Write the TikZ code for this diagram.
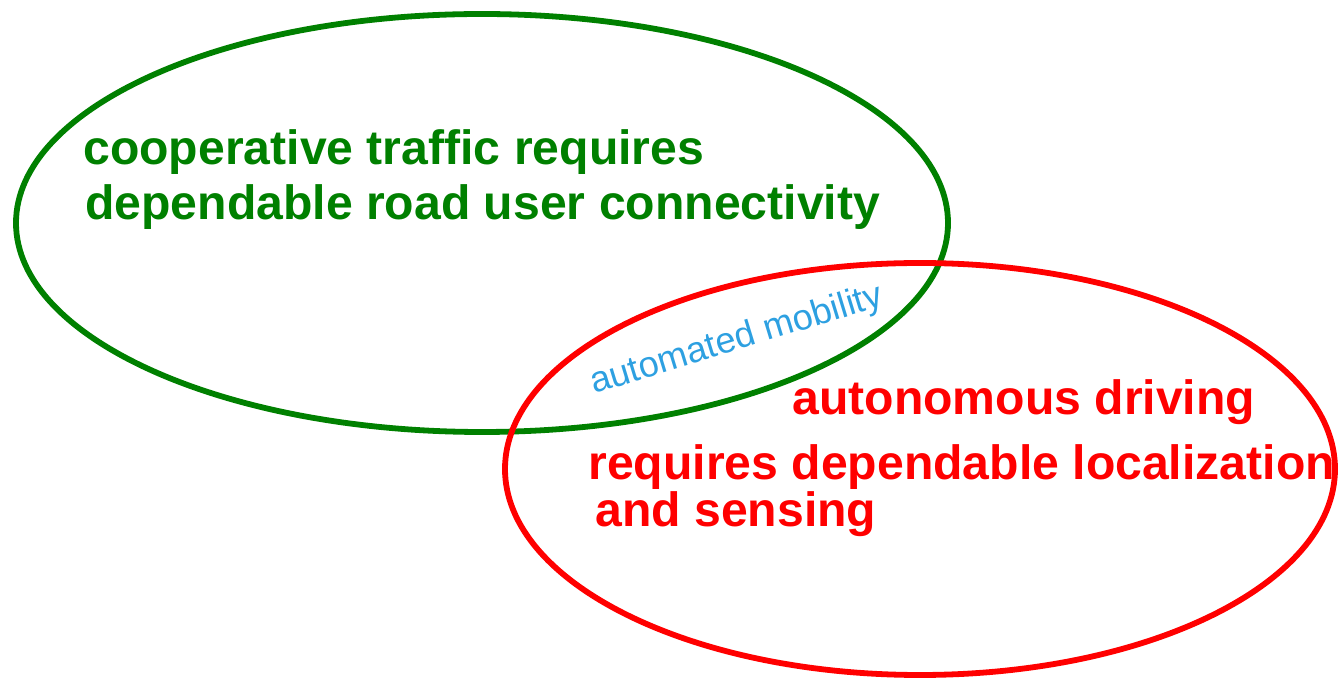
\documentclass[tikz,border=0pt]{standalone}
\usepackage{fontspec}
\setmainfont{Liberation Sans}
\definecolor{cgreen}{RGB}{0,128,0}
\definecolor{cred}{RGB}{255,0,0}
\definecolor{cblue}{RGB}{45,160,225}
\begin{document}
\begin{tikzpicture}[
	big/.style={inner sep=0pt,anchor=base west,font=\fontsize{27.4}{30}\selectfont\bfseries},
	ring/.style={line width=3.3pt}]
	\useasboundingbox (0,0) rectangle (26.78,13.68);
	% cooperative
	\draw[ring,cgreen] (9.64,9.22) ellipse (9.32 and 4.18);
	\node[big,cgreen] (c1) at (1.66,10.38) {cooperative traffic requires};
	\node[big,cgreen] (c2) at (1.70,9.28) {dependable road user connectivity};
	% autonomous
	\draw[ring,cred] (18.4,4.3) ellipse (8.3 and 4.12);
	\node[big,cred] (a1) at (15.84,5.38) {autonomous driving};
	\node[big,cred] (a2) at (11.76,4.08) {requires dependable localization};
	\node[big,cred] (a3) at (11.90,3.14) {and sensing};
	% overlap
	\node[inner sep=0pt,anchor=base west,rotate=17,cblue,font=\fontsize{20.6}{22}\selectfont] (m) at (11.88,5.80) {automated mobility};
\end{tikzpicture}
\end{document}
